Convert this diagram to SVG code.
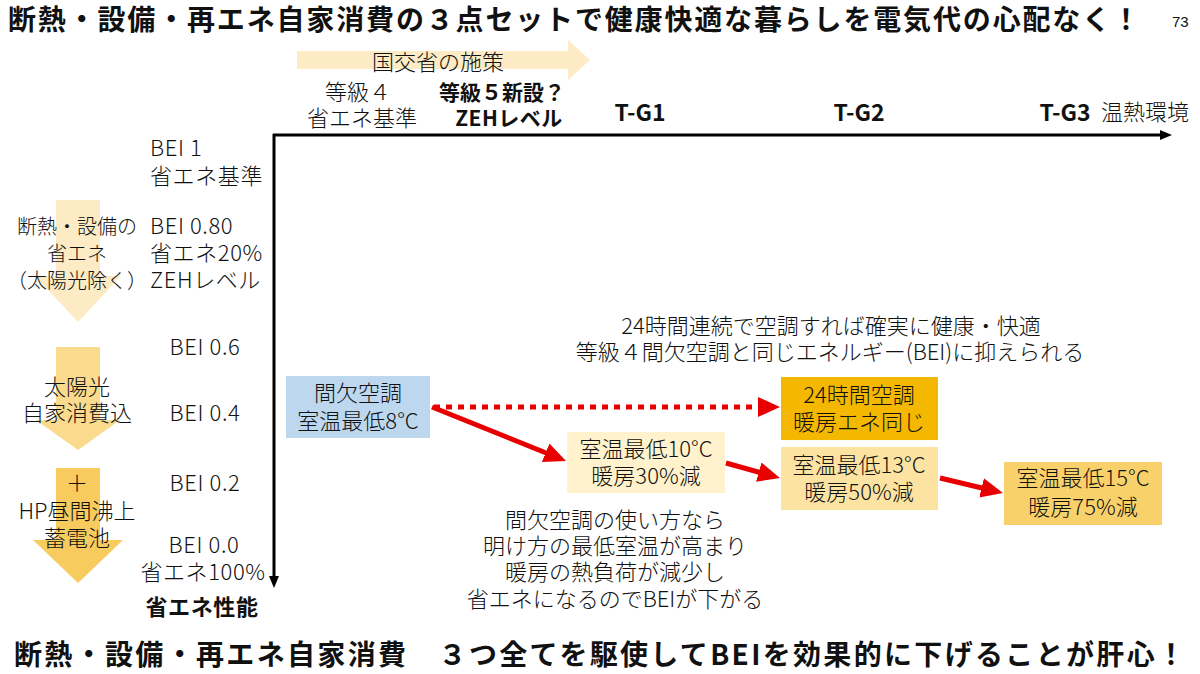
<svg xmlns="http://www.w3.org/2000/svg" width="1200" height="674" viewBox="0 0 1200 674">
<style>
  text { font-family: "Noto Sans CJK JP", "Noto Sans", sans-serif; fill: #111; }
  .t { font-size: 22px; font-weight: 300; }
  .s { font-size: 20px; font-weight: 300; }
  .b { font-size: 21px; font-weight: 700; }
  .g { font-size: 23px; font-weight: 700; }
  .h { font-size: 28px; font-weight: 700; }
  .m { text-anchor: middle; }
  .red { stroke: #E80000; stroke-width: 5; fill: none; }
  .axis { stroke: #000; stroke-width: 3; fill: none; }
</style>
<defs>
  <marker id="rh" viewBox="0 0 22 20" refX="10" refY="10" markerWidth="22" markerHeight="20" markerUnits="userSpaceOnUse" orient="auto">
    <path d="M0,0 L22,10 L0,20 Z" fill="#E80000"/>
  </marker>
  <marker id="ah" viewBox="0 0 12 10" refX="6" refY="5" markerWidth="12" markerHeight="10" markerUnits="userSpaceOnUse" orient="auto">
    <path d="M0,0 L12,5 L0,10 Z" fill="#000"/>
  </marker>
</defs>
<rect width="1200" height="674" fill="#fff"/>

<!-- title -->
<text class="h" x="8" y="30" textLength="1132" lengthAdjust="spacing">断熱・設備・再エネ自家消費の３点セットで健康快適な暮らしを電気代の心配なく！</text>
<text x="1172" y="27" style="font-size:15px;font-family:'Liberation Sans Narrow','Liberation Sans',sans-serif">73</text>

<!-- policy arrow -->
<g id="policy">
  <path d="M297,51 H568 V40 L590,60 L568,80 V69 H297 Z" fill="#FCEBC4"/>
  <text class="t m" x="438" y="70">国交省の施策</text>
</g>

<!-- top labels -->
<g id="grade4">
  <text class="t m" x="358" y="100">等級４</text>
  <text class="t m" x="362" y="126">省エネ基準</text>
</g>
<g id="grade5">
  <text class="b m" x="502" y="100">等級５新設？</text>
  <text class="b m" x="509" y="126" style="letter-spacing:0.5px">ZEHレベル</text>
</g>
<g id="tg">
  <text class="g m" x="640" y="121">T-G1</text>
  <text class="g m" x="859" y="121">T-G2</text>
  <text class="g m" x="1065" y="121">T-G3</text>
  <text class="t m" x="1145" y="120">温熱環境</text>
</g>

<!-- axes -->
<g id="axes">
  <path class="axis" d="M273,135 H1166" marker-end="url(#ah)"/>
  <path class="axis" d="M274,134 V582" marker-end="url(#ah)"/>
</g>

<!-- left BEI labels -->
<g id="bei" style="letter-spacing:0.6px">
  <text class="t" x="150" y="156">BEI 1</text>
  <text class="t" x="150" y="184">省エネ基準</text>
  <text class="t" x="150" y="234">BEI 0.80</text>
  <text class="t" x="150" y="261">省エネ20%</text>
  <text class="t" x="150" y="288">ZEHレベル</text>
  <text class="t m" x="205" y="355">BEI 0.6</text>
  <text class="t m" x="205" y="421">BEI 0.4</text>
  <text class="t m" x="205" y="491">BEI 0.2</text>
  <text class="t m" x="204" y="553">BEI 0.0</text>
  <text class="t m" x="203" y="580">省エネ100%</text>
  <text class="b m" x="202" y="615" style="font-size:22px">省エネ性能</text>
</g>

<!-- left arrows -->
<g id="arrow1">
  <path d="M56,200 H100 V276 H121 L78,322 L35,276 H56 Z" fill="#FCEBC4"/>
  <text class="s m" x="77" y="234">断熱・設備の</text>
  <text class="s m" x="77" y="261">省エネ</text>
  <text class="s m" x="77" y="288">（太陽光除く）</text>
</g>
<g id="arrow2">
  <path d="M56,347 H100 V420 H120 L78,450 L36,420 H56 Z" fill="#FADA8C"/>
  <text class="t m" x="77" y="395">太陽光</text>
  <text class="t m" x="77" y="421">自家消費込</text>
</g>
<g id="arrow3">
  <path d="M56,468 H100 V540 H123 L78,583 L33,540 H56 Z" fill="#F8CB5E"/>
  <text class="t m" x="77" y="491">＋</text>
  <text class="t m" x="77" y="519">HP昼間沸上</text>
  <text class="t m" x="77" y="546">蓄電池</text>
</g>

<!-- notes -->
<g id="note-top">
  <text class="t m" x="831" y="334">24時間連続で空調すれば確実に健康・快適</text>
  <text class="t m" x="830" y="360">等級４間欠空調と同じエネルギー(BEI)に抑えられる</text>
</g>
<g id="note-bottom">
  <text class="t m" x="615" y="528">間欠空調の使い方なら</text>
  <text class="t m" x="615" y="554">明け方の最低室温が高まり</text>
  <text class="t m" x="615" y="580">暖房の熱負荷が減少し</text>
  <text class="t m" x="615" y="607">省エネになるのでBEIが下がる</text>
</g>

<!-- connectors -->
<g id="connectors">
  <path class="red" d="M434,407 H768" stroke-width="6" stroke-dasharray="6 6" marker-end="url(#rh)"/>
  <path class="red" d="M432,407 L554.9,456.5" marker-end="url(#rh)"/>
  <path class="red" d="M726,463 L768.4,474.8" marker-end="url(#rh)"/>
  <path class="red" d="M940,478 L991.3,490.2" marker-end="url(#rh)"/>
</g>

<!-- boxes -->
<g id="box-8">
  <rect x="286" y="376" width="144" height="62" fill="#BDD7EE"/>
  <text class="t m" x="358" y="401">間欠空調</text>
  <text class="t m" x="358" y="429">室温最低8°C</text>
</g>
<g id="box-10">
  <rect x="567" y="432" width="158" height="61" fill="#FFF2CC"/>
  <text class="t m" x="646" y="457">室温最低10°C</text>
  <text class="t m" x="646" y="484">暖房30%減</text>
</g>
<g id="box-24h">
  <rect x="781" y="377" width="157" height="63" fill="#F4B800"/>
  <text class="t m" x="859" y="403">24時間空調</text>
  <text class="t m" x="859" y="430">暖房エネ同じ</text>
</g>
<g id="box-13">
  <rect x="781" y="447" width="157" height="63" fill="#FCE3A2"/>
  <text class="t m" x="859" y="473">室温最低13°C</text>
  <text class="t m" x="859" y="500">暖房50%減</text>
</g>
<g id="box-15">
  <rect x="1004" y="462" width="158" height="63" fill="#F9D16A"/>
  <text class="t m" x="1083" y="486">室温最低15°C</text>
  <text class="t m" x="1083" y="515">暖房75%減</text>
</g>

<!-- bottom headline -->
<text class="h" x="14" y="665" textLength="1171" lengthAdjust="spacing">断熱・設備・再エネ自家消費　３つ全てを駆使してBEIを効果的に下げることが肝心！</text>
</svg>
